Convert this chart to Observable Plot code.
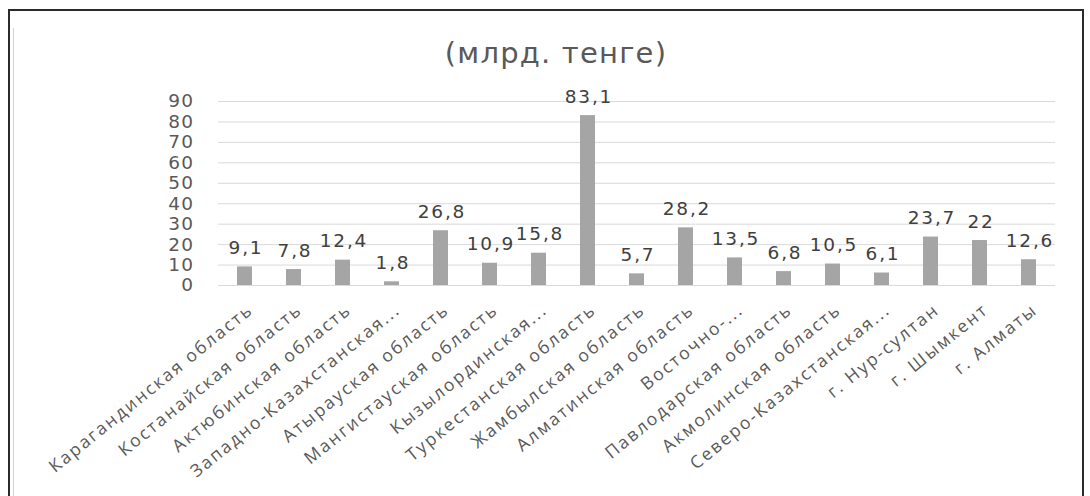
<!DOCTYPE html>
<html><head><meta charset="utf-8">
<script src="https://cdn.jsdelivr.net/npm/d3@7"></script>
<script src="https://cdn.jsdelivr.net/npm/@observablehq/plot@0.6"></script>
<style>
body{margin:0;background:#fff;width:1090px;height:496px;overflow:hidden;position:relative}
#frame{position:absolute;left:8px;top:9px;width:1072px;height:500px;border:2px solid #2b2b2b;border-bottom:none}
#inner{position:absolute;left:13px;top:28px;width:1px;height:470px;background:#d0d0d0}
#title{position:absolute;left:456px;width:200px;top:35px;text-align:center;white-space:nowrap;font-family:"DejaVu Sans";font-size:29px;letter-spacing:1.2px;line-height:36px;color:#595959;display:flex;justify-content:center}
#chart{position:absolute;left:0;top:0}
g[aria-label="x-axis tick label"] text{letter-spacing:2.1px}
g[aria-label="y-axis tick label"] text{letter-spacing:1.4px}
g[aria-label="text"] text{letter-spacing:1.8px}
</style></head><body>
<div id="frame"></div>
<div id="inner"></div>
<div id="title">(млрд. тенге)</div>
<div id="chart"></div>
<script>
const regions = ["Карагандинская область","Костанайская область","Актюбинская область","Западно-Казахстанская...","Атырауская область","Мангистауская область","Кызылординская...","Туркестанская область","Жамбылская область","Алматинская область","Восточно-...","Павлодарская область","Акмолинская область","Северо-Казахстанская...","г. Нур-султан","г. Шымкент","г. Алматы"];
const values = [9.1,7.8,12.4,1.8,26.8,10.9,15.8,83.1,5.7,28.2,13.5,6.8,10.5,6.1,23.7,22,12.6];
const valueLabels = ["9,1","7,8","12,4","1,8","26,8","10,9","15,8","83,1","5,7","28,2","13,5","6,8","10,5","6,1","23,7","22","12,6"];
const yTicks = [0,10,20,30,40,50,60,70,80,90];
const data = regions.map((r,i)=>({region:r, value:values[i], label:valueLabels[i]}));
const plot = Plot.plot({
  width:1090, height:496,
  marginLeft:218, marginRight:35, marginTop:101, marginBottom:211,
  style:{fontFamily:"DejaVu Sans", background:"transparent", overflow:"visible"},
  x:{domain:regions, paddingInner:0.69, paddingOuter:0.37, label:null},
  y:{domain:[0,90], label:null},
  marks:[
    Plot.gridY(yTicks,{stroke:"#d9d9d9", strokeOpacity:1}),
    Plot.barY(data,{x:"region", y:"value", fill:"#a5a5a5"}),
    Plot.text(data,{x:"region", y:"value", text:"label", dy:-13, dx:1, lineAnchor:"bottom", fill:"#404040", fontSize:18.5}),
    Plot.axisY({ticks:yTicks, tickSize:0, tickPadding:24, fontSize:18.5, fill:"#595959", label:null}),
    Plot.axisX({tickSize:0, tickPadding:22, dx:6, tickRotate:-39, fontSize:17.5, fill:"#595959", label:null, fontFamily:"Open Sans"})
  ]
});
document.getElementById("chart").appendChild(plot);
</script>
</body></html>
